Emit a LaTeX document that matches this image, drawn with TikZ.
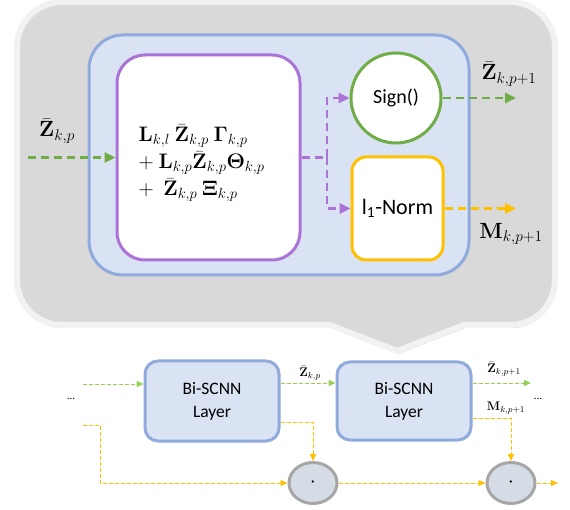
\documentclass[tikz,border=0pt]{standalone}
\usepackage{fix-cm}
\usepackage{amsmath}
\usepackage[no-math]{fontspec}
\setmainfont{Carlito}
\usetikzlibrary{arrows.meta,shapes.geometric,shadows}

\definecolor{bubblefill}{HTML}{D9D9D9}
\definecolor{bubbleedge}{HTML}{F2F2F2}
\definecolor{layerfill}{HTML}{DAE3F3}
\definecolor{layeredge}{HTML}{8FAADC}
\definecolor{convedge}{HTML}{AB72D8}
\definecolor{signgreen}{HTML}{70AD47}
\definecolor{lightgreen}{HTML}{92D050}
\definecolor{normgold}{HTML}{FFC000}
\definecolor{dotedge}{HTML}{A6A6A6}
\definecolor{dotfill}{HTML}{D6DCE5}

\begin{document}
\begin{tikzpicture}[x=1pt,y=-1pt,
  mathfont/.style={font=\fontsize{22}{26}\selectfont,inner sep=0.5pt},
  smallmath/.style={font=\fontsize{12.5}{14}\selectfont,inner sep=0.5pt},
  layerbox/.style={draw=layeredge,fill=layerfill,line width=3pt,rectangle,inner sep=0pt},
  thickflow/.style={line width=2.6pt,dash pattern=on 8pt off 5pt,-{Triangle[length=11pt,width=10pt]}},
  thinflow/.style={line width=1pt,dash pattern=on 4pt off 2pt,-{Triangle[length=7pt,width=6pt]}},
  dotnode/.style={ellipse,draw=dotedge,fill=dotfill,line width=3pt,minimum width=48pt,minimum height=41pt,inner sep=0pt,font=\fontsize{22}{22}\selectfont}
]
\useasboundingbox (0,0) rectangle (570,510);

% speech-bubble background with its pointer
\path[fill=bubblefill,draw=bubbleedge,line width=6pt,line join=round,
      drop shadow={shadow xshift=1pt,shadow yshift=-3pt,fill=black,opacity=0.22}]
  (330,325) -- (62,325) .. controls (37.15,325) and (17,304.85) .. (17,280)
  -- (17,47) .. controls (17,22.15) and (37.15,2) .. (62,2)
  -- (510,2) .. controls (534.85,2) and (555,22.15) .. (555,47)
  -- (555,280) .. controls (555,304.85) and (534.85,325) .. (510,325)
  -- (464,325) -- (397,351) -- cycle;

% expanded layer
\node[layerbox,rounded corners=34pt,minimum width=380pt,minimum height=240pt] (layer) at (279,155) {};
\node[draw=convedge,fill=white,line width=3pt,rounded corners=28pt,minimum width=183pt,minimum height=205pt] (conv) at (208.5,157.5) {};
\node[anchor=west,align=left,inner sep=0.5pt,font=\fontsize{21}{27}\selectfont] (eq) at (138,163)
  {$\mathbf{L}_{k,l}\ \bar{\mathbf{Z}}_{k,p}\ \mathbf{\Gamma}_{k,p}$\\
   ${+}\ \mathbf{L}_{k,p}\bar{\mathbf{Z}}_{k,p}\mathbf{\Theta}_{k,p}$\\
   ${+}\ \ \bar{\mathbf{Z}}_{k,p}\ \mathbf{\Xi}_{k,p}$};
\node[circle,draw=signgreen,fill=white,line width=3pt,minimum size=90pt,inner sep=0pt,font=\fontsize{20}{24}\selectfont] (sign) at (396,98) {Sign()};
\node[draw=normgold,fill=white,line width=3pt,rounded corners=14pt,minimum width=91pt,minimum height=103pt,inner sep=0pt,font=\fontsize{22}{26}\selectfont] (norm) at (397.5,208.5) {l\textsubscript{1}-Norm};

\coordinate (inL) at (28,157.5);
\coordinate (br) at (327,157.5);
\coordinate (outZ) at (516,98);
\coordinate (outM) at (516,208.5);

\draw[thickflow,signgreen] (inL) -- (conv.west);
\draw[thickflow,convedge,-] (conv.east) -- (br);
\draw[thickflow,convedge] (br) |- (sign.west);
\draw[thickflow,convedge] (br) |- (norm.west);
\draw[thickflow,signgreen] (sign.east) -- (outZ);
\draw[thickflow,normgold] (norm.east) -- (outM);

\node[mathfont] (inlab) at (57,131) {$\bar{\mathbf{Z}}_{k,p}$};
\node[mathfont] (zlab) at (509,74) {$\bar{\mathbf{Z}}_{k,p+1}$};
\node[mathfont] (mlab) at (511,234) {$\mathbf{M}_{k,p+1}$};

% chain of layers
\node[layerbox,rounded corners=13pt,minimum width=134pt,minimum height=80pt,align=center,font=\fontsize{17.5}{23}\selectfont] (b1) at (212,401) {Bi-SCNN\\Layer};
\node[layerbox,rounded corners=13pt,minimum width=134pt,minimum height=78pt,align=center,font=\fontsize{17.5}{23}\selectfont] (b2) at (404,401) {Bi-SCNN\\Layer};
\node[dotnode] (d1) at (313,483) {$\cdot$};
\node[dotnode] (d2) at (511,483) {$\cdot$};

\node[font=\fontsize{11}{13}\selectfont] (lft) at (71,399) {...};
\node[font=\fontsize{11}{13}\selectfont] (rgt) at (538,399) {...};

\coordinate (g0) at (83,384);
\coordinate (g3) at (531,383);
\coordinate (y0) at (83,425);
\coordinate (y3) at (558,483);

\draw[thinflow,lightgreen] (g0) -- (g0 -| b1.west);
\draw[thinflow,lightgreen] (b1.east |- 0,383) -- (b2.west |- 0,383);
\draw[thinflow,lightgreen] (b2.east |- g3) -- (g3);

\draw[thinflow,normgold] (y0) -- ++(17,0) |- (d1.west);
\draw[thinflow,normgold] ([yshift=-21pt]b1.east) -| (d1.north);
\draw[thinflow,normgold] (d1.east) -- (d2.west);
\draw[thinflow,normgold] ([yshift=-17pt]b2.east) -| (d2.north);
\draw[thinflow,normgold] (d2.east) -- (y3);

\node[smallmath] (zs) at (310,373) {$\bar{\mathbf{Z}}_{k,p}$};
\node[smallmath] (zs2) at (504,369) {$\bar{\mathbf{Z}}_{k,p+1}$};
\node[smallmath] (ms) at (506,408) {$\mathbf{M}_{k,p+1}$};
\end{tikzpicture}
\end{document}
